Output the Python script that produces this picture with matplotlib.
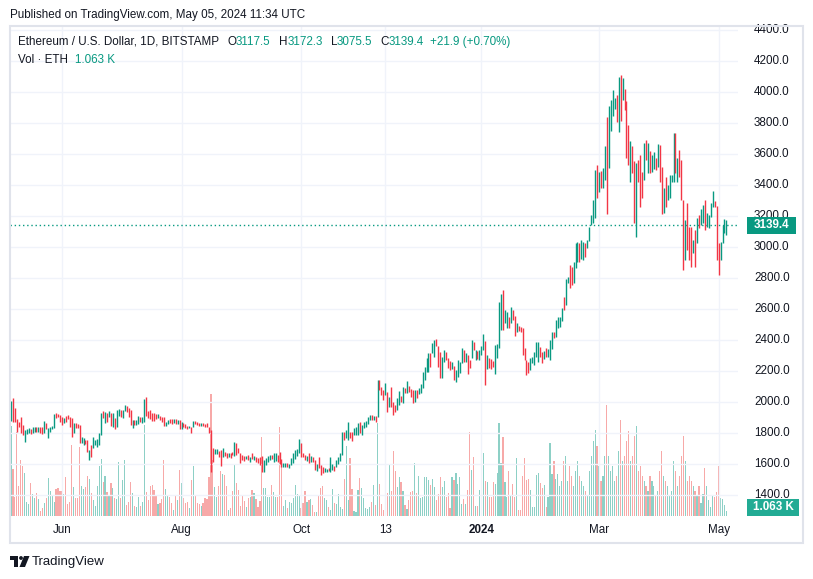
import numpy as np
import pandas as pd
import matplotlib
matplotlib.use("Agg")
import matplotlib.pyplot as plt
from matplotlib.transforms import blended_transform_factory
from matplotlib.patches import Rectangle, Polygon, Circle

# ETH/USD daily bars, Bitstamp, 2023-05-06 .. 2024-05-05
start_date = "2023-05-06"

high = [
    2004, 2026, 1957, 1886, 1867, 1903, 1850, 1817, 1822, 1828,
    1822, 1839, 1839, 1835, 1835, 1835, 1835, 1875, 1860, 1828,
    1839, 1843, 1921, 1925, 1921, 1914, 1903, 1893, 1908, 1914,
    1903, 1895, 1865, 1860, 1854, 1850, 1774, 1764, 1753, 1753,
    1688, 1721, 1770, 1753, 1757, 1800, 1929, 1940, 1936, 1925,
    1942, 1929, 1925, 1893, 1946, 1951, 1946, 1946, 1979, 1972,
    1957, 1946, 1882, 1882, 1882, 1908, 1903, 1903, 2015, 2032,
    1942, 1946, 1929, 1925, 1921, 1921, 1908, 1903, 1903, 1871,
    1882, 1891, 1886, 1886, 1886, 1882, 1882, 1871, 1860, 1854,
    1843, 1843, 1839, 1878, 1878, 1869, 1865, 1865, 1860, 1856,
    1865, 1839, 1817, 1699, 1693, 1693, 1682, 1688, 1699, 1678,
    1667, 1667, 1667, 1678, 1742, 1736, 1699, 1667, 1656, 1650,
    1650, 1656, 1641, 1667, 1650, 1641, 1635, 1641, 1650, 1624,
    1635, 1650, 1656, 1656, 1667, 1671, 1656, 1678, 1628, 1607,
    1602, 1602, 1598, 1635, 1667, 1688, 1695, 1757, 1736, 1667,
    1656, 1650, 1667, 1650, 1645, 1624, 1598, 1641, 1592, 1577,
    1570, 1564, 1570, 1641, 1598, 1585, 1624, 1641, 1667, 1802,
    1802, 1817, 1867, 1802, 1807, 1828, 1835, 1865, 1871, 1850,
    1871, 1876, 1900, 1915, 1915, 1908, 1908, 2140, 2140, 2097,
    2076, 2123, 2065, 2033, 2097, 2000, 1979, 2022, 2071, 2037,
    2097, 2086, 2136, 2102, 2080, 2076, 2076, 2076, 2086, 2114,
    2194, 2222, 2280, 2317, 2317, 2377, 2398, 2403, 2360, 2323,
    2291, 2334, 2323, 2280, 2265, 2259, 2230, 2205, 2269, 2259,
    2345, 2334, 2312, 2302, 2269, 2398, 2388, 2334, 2329, 2334,
    2360, 2437, 2394, 2302, 2280, 2274, 2265, 2366, 2372, 2646,
    2695, 2721, 2592, 2581, 2549, 2613, 2592, 2553, 2506, 2489,
    2484, 2474, 2345, 2269, 2259, 2280, 2291, 2323, 2388, 2388,
    2355, 2323, 2329, 2345, 2338, 2398, 2452, 2452, 2527, 2544,
    2549, 2603, 2678, 2790, 2802, 2882, 2871, 2903, 3026, 3033,
    3026, 3043, 3033, 3022, 3043, 3129, 3205, 3301, 3495, 3527,
    3480, 3490, 3506, 3650, 3839, 3908, 3946, 4011, 3957, 3979,
    4097, 4108, 4086, 4015, 3942, 3785, 3684, 3650, 3555, 3538,
    3559, 3592, 3484, 3667, 3688, 3671, 3620, 3592, 3610, 3570,
    3662, 3656, 3516, 3376, 3452, 3398, 3463, 3463, 3731, 3731,
    3570, 3624, 3559, 3301, 3172, 3280, 3129, 3129, 3043, 3108,
    3183, 3205, 3243, 3269, 3301, 3220, 3205, 3280, 3359, 3295,
    3263, 3022, 3033, 3140, 3177, 3172.3,
]

low = [
    1875, 1867, 1871, 1807, 1835, 1796, 1785, 1742, 1794, 1796,
    1792, 1796, 1807, 1802, 1807, 1796, 1790, 1800, 1824, 1764,
    1807, 1822, 1828, 1893, 1903, 1871, 1850, 1860, 1871, 1888,
    1839, 1774, 1796, 1828, 1833, 1731, 1731, 1721, 1727, 1678,
    1624, 1645, 1699, 1721, 1710, 1721, 1785, 1893, 1860, 1871,
    1903, 1843, 1839, 1822, 1839, 1908, 1903, 1893, 1942, 1936,
    1903, 1850, 1828, 1850, 1850, 1854, 1867, 1860, 1871, 1908,
    1893, 1886, 1878, 1878, 1886, 1897, 1882, 1871, 1843, 1843,
    1856, 1860, 1854, 1865, 1856, 1854, 1822, 1822, 1835, 1828,
    1824, 1828, 1800, 1839, 1854, 1848, 1845, 1843, 1843, 1839,
    1835, 1800, 1549, 1613, 1663, 1663, 1645, 1585, 1645, 1650,
    1639, 1645, 1639, 1656, 1650, 1656, 1667, 1602, 1624, 1620,
    1628, 1624, 1613, 1628, 1624, 1613, 1602, 1592, 1549, 1549,
    1592, 1613, 1624, 1628, 1613, 1620, 1613, 1598, 1581, 1577,
    1581, 1581, 1570, 1592, 1602, 1628, 1650, 1667, 1641, 1641,
    1624, 1620, 1607, 1613, 1613, 1559, 1555, 1570, 1527, 1542,
    1549, 1549, 1555, 1549, 1559, 1553, 1581, 1598, 1620, 1656,
    1753, 1764, 1753, 1764, 1749, 1785, 1785, 1785, 1796, 1785,
    1828, 1839, 1855, 1882, 1882, 1882, 1871, 1904, 2076, 2043,
    2011, 2043, 1936, 1968, 1968, 1914, 1936, 1947, 1979, 2000,
    1994, 2054, 2054, 2065, 2033, 1994, 2000, 2022, 2050, 2054,
    2086, 2140, 2194, 2194, 2222, 2312, 2291, 2360, 2226, 2151,
    2151, 2259, 2269, 2215, 2205, 2209, 2140, 2129, 2162, 2188,
    2248, 2259, 2259, 2179, 2215, 2280, 2334, 2269, 2273, 2269,
    2301, 2334, 2108, 2210, 2216, 2209, 2222, 2179, 2280, 2345,
    2463, 2463, 2506, 2474, 2474, 2506, 2527, 2424, 2452, 2459,
    2452, 2302, 2269, 2173, 2183, 2205, 2252, 2237, 2291, 2259,
    2286, 2248, 2274, 2286, 2291, 2269, 2338, 2409, 2420, 2474,
    2484, 2523, 2592, 2624, 2768, 2732, 2753, 2764, 2861, 2904,
    2904, 2919, 2914, 2936, 2990, 3039, 3140, 3151, 3183, 3312,
    3355, 3380, 3377, 3430, 3211, 3506, 3749, 3843, 3886, 3807,
    3742, 3813, 3946, 3882, 3570, 3527, 3420, 3473, 3155, 3065,
    3420, 3258, 3312, 3430, 3559, 3473, 3473, 3484, 3500, 3495,
    3516, 3420, 3211, 3220, 3258, 3301, 3312, 3420, 3420, 3473,
    3420, 3452, 3301, 2850, 2914, 2979, 2914, 2871, 2957, 2871,
    3022, 3118, 3140, 3151, 3108, 3130, 3118, 3194, 3258, 3258,
    2914, 2818, 2914, 3022, 3086, 3075.5,
]

# G = close above open, R = close below open
direction = (
    "GRRRRRRGGG" "RGGRGRRGRG" "GGGRRRRGRR" "RRGRRRGGRR" "GRGGGGGRGR" "GRGRGGRGGR"
    "RRGRGGRGGR" "RRRRRGRRRG" "GRRGRGRGRR" "RGRGRRRGRR" "RRRRGGRRGR" "RGRRGRRRRR"
    "GRGRGRRRRG" "GGGRGGRRRG" "GRGGGGGGRR" "RGRGRRGRRR" "GGRGGRGGGG" "RGGRRGGGRG"
    "GGGGRGRGRR" "RGRGRRRGGR" "GRGRRRGRGG" "GGGGRGGRRR" "GGRRRGRGGG" "GRGRRGRGRG"
    "GGRGRRRGGG" "GRGGRGRRGR" "RRRRRGGGGG" "RRGRGGGRGG" "GGRGGRRGGG" "RGGRGGGGGR"
    "GRGGRGGGGR" "GRGRRRGRRG" "RRRGRGRGGR" "GRRGRGGGGR" "GRRRGRRRGR" "GRGGRGGGGR"
    "RRGGGG"
)

# daily volume, thousand ETH
volume_k = [
    18.0, 9.4, 3.8, 16.8, 6.0, 11.2, 10.0, 8.6, 2.8, 2.4,
    6.6, 4.4, 3.6, 4.6, 3.4, 1.0, 1.6, 2.6, 3.6, 7.6,
    5.0, 4.2, 2.8, 5.4, 5.6, 5.0, 5.0, 4.4, 7.8, 2.4,
    2.8, 14.2, 5.8, 3.6, 3.6, 13.8, 6.0, 5.4, 5.8, 8.0,
    7.4, 4.6, 3.2, 2.0, 6.0, 10.0, 11.4, 6.8, 8.0, 4.8,
    4.0, 6.6, 5.6, 3.6, 3.4, 10.8, 3.6, 7.2, 11.2, 2.2,
    2.8, 6.8, 4.6, 2.0, 1.8, 3.8, 2.0, 2.8, 18.2, 4.8,
    3.2, 6.0, 6.2, 5.2, 4.2, 2.4, 2.6, 3.4, 11.2, 5.4,
    4.2, 3.8, 2.6, 1.2, 4.2, 3.2, 9.2, 6.6, 3.6, 2.6,
    2.8, 1.6, 7.2, 10.0, 4.0, 2.6, 2.4, 2.0, 2.6, 3.6,
    3.4, 7.8, 24.4, 11.2, 5.8, 3.8, 6.0, 9.0, 8.4, 8.2,
    6.0, 1.2, 1.6, 5.0, 10.2, 6.6, 5.2, 2.0, 4.2, 3.0,
    1.8, 3.6, 3.8, 5.2, 4.6, 3.4, 1.8, 3.0, 15.8, 5.6,
    5.6, 3.8, 3.8, 6.2, 4.8, 3.8, 3.8, 17.8, 11.2, 2.0,
    3.2, 1.6, 2.8, 2.6, 3.6, 6.2, 4.4, 4.0, 1.6, 2.6,
    5.0, 2.8, 3.2, 3.4, 2.2, 0.8, 0.8, 4.2, 5.6, 6.0,
    3.6, 3.2, 1.8, 1.2, 5.4, 2.6, 2.4, 4.4, 1.8, 1.4,
    7.4, 14.0, 3.2, 11.6, 5.4, 1.0, 0.8, 5.2, 7.6, 5.6,
    3.6, 1.6, 1.4, 1.8, 2.8, 6.2, 2.2, 18.6, 6.4, 2.4,
    1.2, 7.8, 4.6, 10.4, 5.0, 13.0, 9.0, 5.8, 7.8, 6.8,
    5.0, 2.2, 1.4, 3.2, 4.8, 5.0, 10.6, 4.6, 8.0, 3.6,
    3.8, 7.8, 7.8, 7.2, 6.2, 7.4, 5.8, 3.2, 4.4, 7.8,
    5.8, 7.0, 3.8, 4.6, 1.6, 7.8, 7.2, 8.6, 6.4, 7.8,
    2.4, 3.4, 2.4, 5.2, 16.8, 9.2, 11.8, 2.0, 2.0, 5.2,
    7.4, 12.6, 7.0, 6.8, 3.8, 3.8, 6.8, 6.4, 8.6, 18.6,
    10.6, 15.8, 6.8, 3.8, 9.0, 4.0, 6.4, 3.8, 11.6, 1.2,
    1.2, 8.0, 11.6, 7.2, 7.4, 5.2, 1.8, 1.8, 8.2, 8.6,
    6.6, 5.6, 6.2, 1.8, 3.8, 14.6, 8.4, 11.0, 7.4, 8.4,
    6.0, 7.0, 11.0, 12.0, 7.0, 10.0, 8.0, 6.0, 9.0, 11.0,
    8.0, 7.0, 6.0, 5.0, 4.0, 9.0, 12.0, 15.0, 17.2, 14.0,
    10.0, 7.0, 8.0, 12.0, 22.2, 12.0, 9.0, 10.0, 7.0, 8.0,
    13.0, 19.2, 11.0, 12.0, 15.0, 17.0, 11.0, 12.0, 16.0, 18.0,
    9.0, 10.0, 8.0, 7.0, 6.0, 5.0, 8.0, 7.0, 6.0, 4.0,
    5.0, 9.0, 13.0, 8.0, 7.0, 6.0, 4.0, 5.0, 11.0, 9.0,
    6.0, 8.0, 12.0, 16.0, 11.0, 7.0, 8.0, 7.0, 6.0, 5.0,
    4.0, 6.0, 2.6, 4.4, 9.6, 6.0, 3.2, 1.8, 4.2, 3.8,
    4.8, 10.0, 3.6, 3.4, 2.2, 1.063,
]

price_ticks = list(range(1400, 4401, 200))
tick_dates = ["2023-06-01", "2023-08-01", "2023-10-01", "2023-11-13",
              "2024-01-01", "2024-03-01", "2024-05-01"]
tick_labels = ["Jun", "Aug", "Oct", "13", "2024", "Mar", "May"]

last_open, last_high, last_low, last_close = 3117.5, 3172.3, 3075.5, 3139.4
change, change_pct = 21.9, 0.70

# ---- style
up_c, down_c = "#089981", "#f23645"
vol_up_c, vol_down_c = "#8dd0c6", "#f7a9a8"
txt_c = "#131722"
grid_c = "#f0f3fa"
plt.rcParams['font.family'] = ['Liberation Sans', 'DejaVu Sans']
FS = 8.4

W, H = 813, 579
fig = plt.figure(figsize=(W / 100, H / 100), dpi=100)
fig.patch.set_facecolor("white")


def px_rect(x0, y0, x1, y1):
    return [x0 / W, 1 - y1 / H, (x1 - x0) / W, (y1 - y0) / H]


dates = pd.date_range(start_date, periods=len(high), freq="D")
idx = np.arange(len(high))
is_up = np.array([c == "G" for c in direction])
tick_pos = [dates.get_loc(pd.Timestamp(d)) for d in tick_dates]

pane = px_rect(10, 27, 738, 516)
x_lim = (-0.5, 370.9)

# volume pane (behind)
axv = fig.add_axes(pane)
axv.bar(idx, volume_k, width=0.6,
        color=np.where(is_up, vol_up_c, vol_down_c), linewidth=0)
axv.set_xlim(*x_lim)
axv.set_ylim(0, 97.8)
axv.axis("off")

# price pane
ax = fig.add_axes(pane)
ax.patch.set_visible(False)
ax.set_xlim(*x_lim)
ax.set_ylim(1262.6, 4417.4)
ax.set_yticks(price_ticks)
ax.set_xticks(tick_pos)
ax.grid(True, color=grid_c, linewidth=1.0)
ax.set_axisbelow(True)
ax.tick_params(length=0, labelleft=False, labelbottom=False)
for s in ax.spines.values():
    s.set_visible(False)
axv.set_zorder(0)
ax.set_zorder(1)

ax.vlines(idx, low, high, colors=np.where(is_up, up_c, down_c),
          linewidth=1.0, zorder=3)
ax.axhline(last_close, color=up_c, linestyle=(0, (1, 2)), linewidth=1.0, zorder=2)

# price scale labels (the last-price badge sits on top of 3200.0, as on the original)
tr_y = blended_transform_factory(ax.transAxes, ax.transData)
x_lab = (754 - 10) / (738 - 10)
for p in price_ticks:
    ax.text(x_lab, p, f"{p:.1f}", transform=tr_y, color=txt_c, fontsize=FS,
            va="center", ha="left", clip_on=False)

# time scale labels
tr_x = blended_transform_factory(ax.transData, ax.transAxes)
y_lab = (516 - 530) / (516 - 27)
for pos, lab in zip(tick_pos, tick_labels):
    ax.text(pos, y_lab, lab, transform=tr_x, color=txt_c, fontsize=FS,
            va="center", ha="center", clip_on=False,
            fontweight="bold" if lab == "2024" else "normal")

# ---- overlay in pixel coords
ov = fig.add_axes([0, 0, 1, 1])
ov.set_xlim(0, W)
ov.set_ylim(H, 0)
ov.axis("off")
ov.set_zorder(5)

ov.add_patch(Rectangle((9.5, 25.5), 793.5, 517.5, fill=False,
                       edgecolor="#e0e3eb", linewidth=1.5))

# last price and volume badges
y_last = H - ax.transData.transform((0, last_close))[1]
ov.add_patch(Rectangle((747, y_last - 8.5), 49, 17, color=up_c, linewidth=0))
ov.text(771.5, y_last, f"{last_close:.1f}", color="white", fontsize=FS,
        fontweight="bold", ha="center", va="center")
ov.add_patch(Rectangle((747, 499), 52, 17, color="#22ab94", linewidth=0))
ov.text(773, 507.5, f"{volume_k[-1]:.3f} K", color="white", fontsize=FS,
        fontweight="bold", ha="center", va="center")

ov.text(10, 15, "Published on TradingView.com, May 05, 2024 11:34 UTC",
        color=txt_c, fontsize=FS, ha="left", va="center")

renderer = fig.canvas.get_renderer()


def pieces(x, y, items):
    for s, c, gap in items:
        t = ov.text(x, y, s, color=c, fontsize=FS, ha="left", va="center")
        x += t.get_window_extent(renderer=renderer).width + gap


pieces(18, 42, [
    ("Ethereum / U.S. Dollar, 1D, BITSTAMP", txt_c, 8),
    ("O", txt_c, 0), (f"{last_open:.1f}", up_c, 8),
    ("H", txt_c, 0), (f"{last_high:.1f}", up_c, 8),
    ("L", txt_c, 0), (f"{last_low:.1f}", up_c, 8),
    ("C", txt_c, 0), (f"{last_close:.1f}", up_c, 6),
    (f"+{change:.1f} (+{change_pct:.2f}%)", up_c, 0),
])
pieces(18, 60, [("Vol · ETH", txt_c, 7), (f"{volume_k[-1]:.3f} K", up_c, 0)])

# TradingView logo
ov.add_patch(Rectangle((10, 556), 8, 3.5, color=txt_c, linewidth=0))
ov.add_patch(Rectangle((14, 556), 4, 11, color=txt_c, linewidth=0))
ov.add_patch(Circle((21, 558), 1.9, color=txt_c, linewidth=0))
ov.add_patch(Polygon([(24, 556), (29.5, 556), (25, 567), (19.5, 567)],
                     closed=True, color=txt_c, linewidth=0))
ov.text(32, 562, "TradingView", color=txt_c, fontsize=9.5, ha="left", va="center")

fig.savefig("out.png", dpi=100, facecolor="white")
